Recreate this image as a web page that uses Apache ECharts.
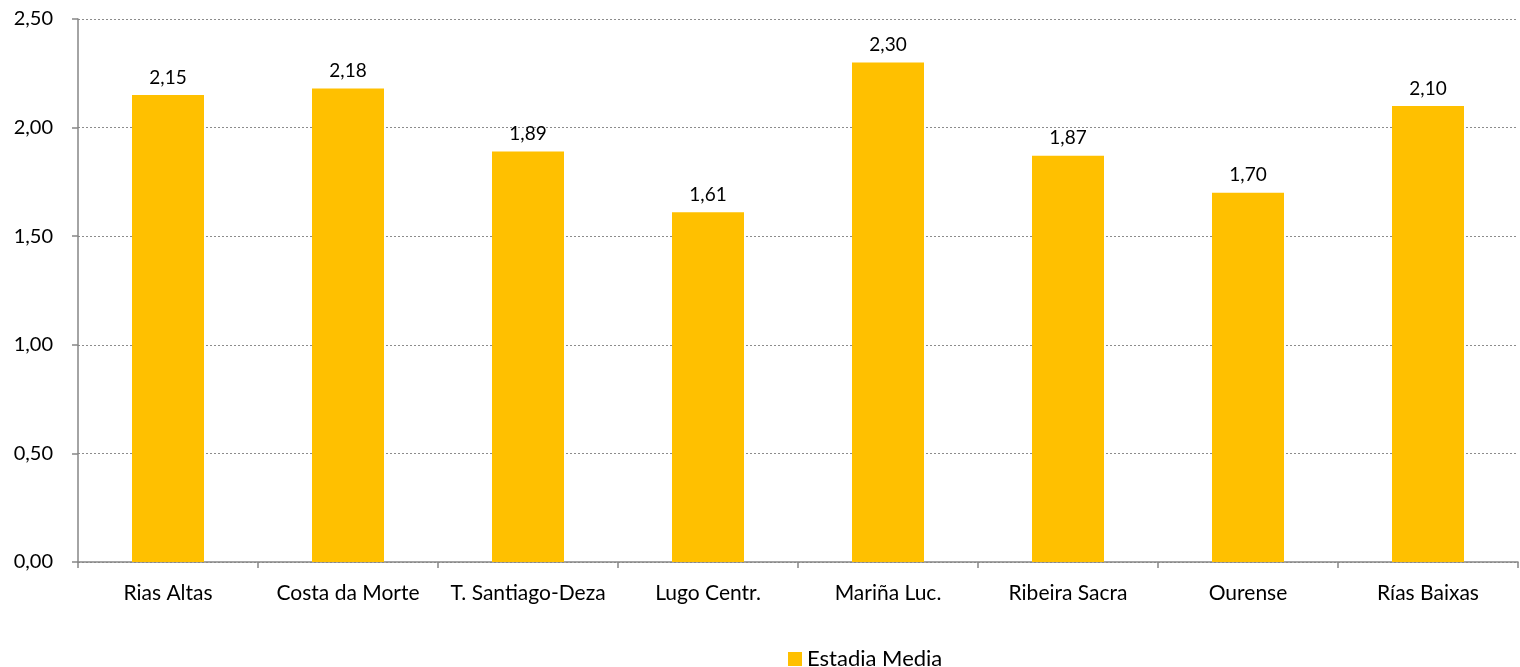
<!DOCTYPE html>
<html>
<head>
<meta charset="utf-8">
<script src="https://cdn.jsdelivr.net/npm/echarts@6/dist/echarts.min.js"></script>
<style>
  html, body { margin: 0; padding: 0; background: #fff; }
  #chart { width: 1520px; height: 667px; }
</style>
</head>
<body>
<div id="chart"></div>
<script>
var categories = ['Rias Altas', 'Costa da Morte', 'T. Santiago-Deza', 'Lugo Centr.', 'Mariña Luc.', 'Ribeira Sacra', 'Ourense', 'Rías Baixas']
var estadiaMedia = [2.15, 2.18, 1.89, 1.61, 2.30, 1.87, 1.70, 2.10]
var seriesName = 'Estadia Media'

var fontFamily = 'Lato, sans-serif'
// decimal comma like the source sheet
function fmt(v) {
  return Number(v).toFixed(2).replace('.', ',')
}

var myChart = echarts.init(document.getElementById('chart'))
myChart.setOption({
  animation: false,
  textStyle: { fontFamily: fontFamily },
  grid: {
    left: 78,
    right: 2,
    top: 19,
    bottom: 105
  },
  legend: {
    top: 648,
    left: 788,
    padding: 0,
    itemWidth: 14,
    itemHeight: 14,
    itemGap: 4,
    icon: 'rect',
    textStyle: { color: '#000', fontSize: 22, fontFamily: fontFamily },
    data: [seriesName]
  },
  xAxis: {
    type: 'category',
    data: categories,
    axisLine: { lineStyle: { color: '#868686', width: 1.5 } },
    axisTick: { show: true, interval: 0, length: 6, lineStyle: { color: '#868686', width: 1.5 } },
    axisLabel: { color: '#000', fontSize: 21, interval: 0, margin: 21, fontFamily: fontFamily }
  },
  yAxis: {
    type: 'value',
    min: 0,
    max: 2.5,
    interval: 0.5,
    axisLine: { show: true, lineStyle: { color: '#868686', width: 1.5 } },
    axisTick: { show: true, length: 6, lineStyle: { color: '#868686', width: 1.5 } },
    axisLabel: { color: '#000', fontSize: 20, margin: 25, formatter: fmt, fontFamily: fontFamily },
    splitLine: { lineStyle: { color: '#8c8c8c', type: [2, 2], width: 1 } }
  },
  series: [
    {
      name: seriesName,
      type: 'bar',
      barWidth: '40%',
      data: estadiaMedia,
      itemStyle: { color: '#ffc000' },
      label: {
        show: true,
        position: 'top',
        distance: 8,
        color: '#000',
        fontSize: 19,
        fontFamily: fontFamily,
        formatter: function (p) { return fmt(p.value) }
      }
    }
  ]
})
</script>
</body>
</html>
